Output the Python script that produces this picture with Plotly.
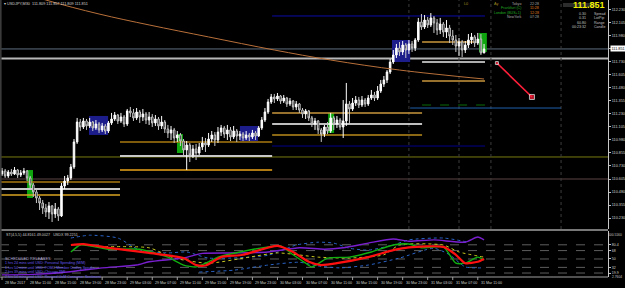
import pandas as pd
import plotly.graph_objects as go

START = pd.Timestamp("2017-03-28 07:00")
N_BARS = 155

def bt(b):
    return START + pd.Timedelta(minutes=30 * b)

bar_time = [bt(i) for i in range(N_BARS)]

# ---------------- USDJPY M30 OHLC ----------------
opens = [110.653, 110.682, 110.634, 110.672, 110.653, 110.691, 110.644, 110.663, 110.682, 110.615,
         110.548, 110.481, 110.423, 110.375, 110.327, 110.289, 110.347, 110.270, 110.318, 110.251,
         110.538, 110.586, 110.615, 110.720, 110.960, 111.151, 111.103, 111.161, 111.113, 111.151,
         111.094, 111.132, 111.075, 111.113, 111.065, 111.142, 111.180, 111.218, 111.161, 111.199,
         111.132, 111.257, 111.238, 111.190, 111.247, 111.199, 111.228, 111.170, 111.199, 111.142,
         111.180, 111.113, 111.151, 111.084, 111.046, 111.075, 110.998, 111.027, 110.969, 110.883,
         110.931, 110.835, 110.893, 110.854, 110.912, 110.950, 110.931, 110.988, 111.027, 110.979,
         111.055, 111.094, 111.036, 111.075, 111.008, 111.065, 111.017, 111.036, 110.998, 111.027,
         111.008, 111.046, 111.017, 111.094, 111.170, 111.247, 111.343, 111.391, 111.372, 111.400,
         111.352, 111.381, 111.324, 111.352, 111.295, 111.324, 111.266, 111.228, 111.257, 111.190,
         111.132, 111.161, 111.075, 111.036, 111.103, 111.065, 111.190, 111.132, 111.170, 111.103,
         111.161, 111.324, 111.276, 111.333, 111.362, 111.314, 111.362, 111.324, 111.381, 111.410,
         111.381, 111.448, 111.515, 111.554, 111.630, 111.726, 111.793, 111.860, 111.822, 111.889,
         111.841, 111.899, 111.860, 111.937, 112.109, 112.061, 112.128, 112.081, 112.148, 112.100,
         112.033, 112.090, 112.013, 112.052, 111.975, 111.937, 111.879, 111.918, 111.841, 111.889,
         111.937, 111.966, 111.908, 111.946, 111.812]
highs = [110.711, 110.701, 110.691, 110.701, 110.720, 110.701, 110.691, 110.711, 110.691, 110.634,
         110.567, 110.500, 110.442, 110.404, 110.366, 110.385, 110.356, 110.375, 110.337, 110.567,
         110.634, 110.644, 110.749, 110.988, 111.190, 111.180, 111.190, 111.180, 111.190, 111.161,
         111.170, 111.151, 111.142, 111.132, 111.161, 111.238, 111.247, 111.228, 111.238, 111.218,
         111.276, 111.295, 111.276, 111.285, 111.266, 111.276, 111.247, 111.247, 111.228, 111.218,
         111.199, 111.209, 111.170, 111.123, 111.113, 111.094, 111.065, 111.046, 110.988, 110.969,
         110.950, 110.931, 110.941, 110.950, 111.008, 110.998, 111.046, 111.065, 111.055, 111.103,
         111.123, 111.113, 111.123, 111.103, 111.113, 111.084, 111.065, 111.055, 111.065, 111.046,
         111.075, 111.065, 111.113, 111.199, 111.285, 111.372, 111.420, 111.420, 111.429, 111.410,
         111.410, 111.391, 111.381, 111.362, 111.352, 111.333, 111.285, 111.276, 111.266, 111.209,
         111.190, 111.170, 111.094, 111.123, 111.151, 111.238, 111.209, 111.209, 111.190, 111.362,
         111.525, 111.352, 111.381, 111.400, 111.391, 111.400, 111.381, 111.410, 111.458, 111.439,
         111.496, 111.554, 111.592, 111.649, 111.755, 111.841, 111.899, 111.918, 111.927, 111.908,
         111.937, 111.927, 111.956, 112.148, 112.186, 112.176, 112.157, 112.195, 112.167, 112.138,
         112.148, 112.109, 112.128, 112.081, 112.033, 111.985, 111.956, 111.937, 111.927, 111.994,
         112.004, 111.985, 112.004, 111.994, 111.899]
lows = [110.634, 110.615, 110.615, 110.634, 110.644, 110.615, 110.624, 110.644, 110.586, 110.500,
        110.433, 110.375, 110.308, 110.270, 110.241, 110.222, 110.193, 110.232, 110.203, 110.241,
        110.509, 110.548, 110.596, 110.701, 110.941, 111.065, 111.084, 111.075, 111.094, 111.065,
        111.075, 111.046, 111.055, 111.036, 111.046, 111.123, 111.161, 111.132, 111.142, 111.103,
        111.113, 111.199, 111.161, 111.170, 111.142, 111.161, 111.132, 111.123, 111.103, 111.113,
        111.075, 111.084, 111.046, 110.998, 110.979, 110.950, 110.960, 110.921, 110.835, 110.691,
        110.768, 110.806, 110.787, 110.835, 110.883, 110.864, 110.912, 110.960, 110.921, 110.950,
        111.017, 110.998, 110.979, 110.969, 110.988, 110.960, 110.979, 110.969, 110.979, 110.969,
        110.988, 110.979, 111.008, 111.075, 111.151, 111.228, 111.324, 111.333, 111.352, 111.324,
        111.333, 111.295, 111.305, 111.266, 111.266, 111.238, 111.190, 111.180, 111.161, 111.103,
        111.075, 111.036, 110.960, 111.008, 111.036, 111.046, 111.075, 111.094, 111.075, 110.998,
        111.113, 111.132, 111.257, 111.305, 111.285, 111.295, 111.295, 111.305, 111.362, 111.352,
        111.362, 111.429, 111.487, 111.525, 111.611, 111.707, 111.764, 111.784, 111.793, 111.764,
        111.803, 111.822, 111.831, 111.918, 112.033, 112.042, 112.052, 112.061, 112.004, 111.985,
        111.994, 111.966, 111.956, 111.908, 111.889, 111.822, 111.784, 111.774, 111.812, 111.860,
        111.899, 111.870, 111.889, 111.793, 111.812]
closes = [110.682, 110.634, 110.672, 110.653, 110.691, 110.644, 110.663, 110.682, 110.615, 110.548,
          110.481, 110.423, 110.375, 110.327, 110.289, 110.347, 110.270, 110.318, 110.251, 110.538,
          110.586, 110.615, 110.720, 110.960, 111.151, 111.103, 111.161, 111.113, 111.151, 111.094,
          111.132, 111.075, 111.113, 111.065, 111.142, 111.180, 111.218, 111.161, 111.199, 111.132,
          111.257, 111.238, 111.190, 111.247, 111.199, 111.228, 111.170, 111.199, 111.142, 111.180,
          111.113, 111.151, 111.084, 111.046, 111.075, 110.998, 111.027, 110.969, 110.883, 110.931,
          110.835, 110.893, 110.854, 110.912, 110.950, 110.931, 110.988, 111.027, 110.979, 111.055,
          111.094, 111.036, 111.075, 111.008, 111.065, 111.017, 111.036, 110.998, 111.027, 111.008,
          111.046, 111.017, 111.094, 111.170, 111.247, 111.343, 111.391, 111.372, 111.400, 111.352,
          111.381, 111.324, 111.352, 111.295, 111.324, 111.266, 111.228, 111.257, 111.190, 111.132,
          111.161, 111.075, 111.036, 111.103, 111.065, 111.190, 111.132, 111.170, 111.103, 111.161,
          111.324, 111.276, 111.333, 111.362, 111.314, 111.362, 111.324, 111.381, 111.410, 111.381,
          111.448, 111.515, 111.554, 111.630, 111.726, 111.793, 111.860, 111.822, 111.889, 111.841,
          111.899, 111.860, 111.937, 112.109, 112.061, 112.128, 112.081, 112.148, 112.100, 112.033,
          112.090, 112.013, 112.052, 111.975, 111.937, 111.879, 111.918, 111.841, 111.889, 111.937,
          111.966, 111.908, 111.946, 111.812, 111.851]

# long moving average (orange-brown curve)
ma_bars = [0, 14, 31, 47, 66, 87, 105, 127, 154]
ma_vals = [112.46, 112.32, 112.186, 112.081, 111.966, 111.841, 111.745, 111.649, 111.563]

# price axis labels
price_ticks = [112.230, 112.105, 111.980, 111.855, 111.730, 111.605, 111.480, 111.355, 111.230,
               111.105, 110.980, 110.855, 110.730, 110.605, 110.480, 110.355, 110.230]
current_price = 111.851

# time axis labels
time_label_bars = [0, 8, 16, 24, 32, 40, 48, 56, 64, 72, 80, 88, 96, 104, 112, 120, 128, 136, 144, 152]
time_labels = ["28 Mar 2017", "28 Mar 11:00", "28 Mar 15:00", "28 Mar 19:00", "28 Mar 23:00",
               "29 Mar 03:00", "29 Mar 07:00", "29 Mar 11:00", "29 Mar 15:00", "29 Mar 19:00",
               "29 Mar 23:00", "30 Mar 03:00", "30 Mar 07:00", "30 Mar 11:00", "30 Mar 15:00",
               "30 Mar 19:00", "30 Mar 23:00", "31 Mar 03:00", "31 Mar 07:00", "31 Mar 11:00"]

# full-width horizontal levels: price, colour, width
full_levels = [111.851, 111.760, 110.816, 110.605]
full_colors = ["#5d6d7e", "#b8b8b8", "#7a7a12", "#5e4444"]
full_widths = [1, 2, 1, 1]

# level segments: start bar, end bar, price, colour, width, dash
seg_start = [-1, -1, -1, 37.7, 37.7, 37.7, 86.3, 86.3, 86.3, 86.3, 86.3, 134.2, 134.2, 134.2, 134.2, 130.4]
seg_end = [37.7, 37.7, 37.7, 86.3, 86.3, 86.3, 134.2, 134.2, 134.2, 154.3, 154.3, 154.3, 154.3, 154.3, 151.5, 178.6]
seg_price = [110.577, 110.509, 110.452, 110.960, 110.826, 110.691, 111.238, 111.132, 111.027, 110.921,
             112.167, 111.544, 111.314, 111.726, 111.918, 111.285]
seg_color = ["#a87a10", "#c8c8c8", "#daa520", "#a87a10", "#c8c8c8", "#e8a317", "#c8963c", "#ffffff",
             "#8b6914", "#00008b", "#0a0aa8", "#c8963c", "#0a6a0a", "#e8e8e8", "#c8963c", "#1f5fa8"]
seg_width = [1.5, 2, 1.5, 1.5, 2, 1.5, 1.5, 1.5, 2, 1, 1, 1.5, 1, 1.5, 1.5, 1]
seg_dash = ["solid"] * 12 + ["dash"] + ["solid"] * 3

# shaded boxes: start bar, end bar, top, bottom
blue_box_b0 = [27.8, 76.0, 124.6]
blue_box_b1 = [33.9, 81.8, 130.4]
blue_box_hi = [111.209, 111.113, 111.937]
blue_box_lo = [111.027, 110.969, 111.726]
green_box_b0 = [8.0, 55.9, 104.2, 152.4]
green_box_b1 = [9.9, 57.8, 106.1, 154.9]
green_box_hi = [110.691, 111.036, 111.238, 112.004]
green_box_lo = [110.423, 110.854, 111.046, 111.822]

# session separators (dotted verticals)
vline_bars = [130, 146, 156.2, 178.6]

# red drawn arrow
arrow_bars = [158.1, 169.3]
arrow_prices = [111.716, 111.391]

# ---------------- indicator window ----------------
red_bars = [22, 26, 34, 47, 58, 62, 65, 70, 77, 88, 93, 98, 102, 107, 117, 125, 130, 141, 145, 148, 152, 154]
red_vals = [80, 82, 74, 63, 52, 37, 36, 54, 59, 78, 65, 44, 37, 41, 54, 69, 75, 76, 59, 41, 44, 50]
green_bars = [22, 25, 28, 34, 44, 53, 58, 62, 66, 69, 76, 85, 89, 93, 97, 99, 104, 111, 118, 125, 130, 134, 141, 145, 148, 152, 154]
green_vals = [65, 80, 78, 71, 71, 54, 37, 33, 44, 54, 65, 76, 78, 59, 41, 33, 52, 54, 65, 80, 82, 74, 76, 41, 41, 54, 48]
yellow_bars = [31, 47, 55, 66, 79, 88, 101, 111, 122, 127, 141, 146, 154]
yellow_vals = [76, 74, 52, 41, 54, 63, 54, 52, 59, 80, 80, 65, 54]
blue1_bars = [22, 28, 37, 44, 53, 59, 66, 85, 94, 101, 106, 111, 117, 125, 130, 141, 149]
blue1_vals = [95, 101, 95, 69, 63, 65, 52, 58, 80, 86, 84, 73, 69, 80, 91, 95, 86]
blue2_bars = [63, 74, 85, 95, 101, 108, 117, 127, 138, 143, 148, 153]
blue2_vals = [22, 26, 37, 43, 35, 31, 37, 52, 73, 59, 33, 31]
purple_bars = [0, 10, 21, 32, 43, 47, 58, 64, 74, 85, 95, 103, 109, 117, 125, 130, 138, 148, 152, 154]
purple_vals = [16, 17, 22, 31, 37, 44, 52, 62, 63, 65, 74, 71, 74, 84, 93, 88, 91, 86, 97, 91]
ind_levels = [80.4, 68, 50, 32, 19.9]

releases = ["1 hrs 24 mins until USD: Personal Spending (M/M)",
            "1 hrs 54 mins until USD: FOMC Member Dudley Speaks",
            "2 hrs 39 mins until USD: Chicago PMI",
            "2 hrs 54 mins until USD: Revised UoM Consumer Sentiment"]

FONT = "Liberation Sans"
PW, PH = 608.0, 277.0

fig = go.Figure()

fig.add_trace(go.Candlestick(
    x=bar_time, open=opens, high=highs, low=lows, close=closes,
    increasing=dict(line=dict(color="#ffffff", width=1), fillcolor="#ffffff"),
    decreasing=dict(line=dict(color="#c8c8c8", width=1), fillcolor="#000000"),
    whiskerwidth=0, hoverinfo="skip", xaxis="x", yaxis="y"))

fig.add_trace(go.Scatter(x=[bt(b) for b in ma_bars], y=ma_vals, mode="lines",
                         line=dict(color="#b8703a", width=1, shape="spline"),
                         hoverinfo="skip", xaxis="x", yaxis="y"))

fig.add_trace(go.Scatter(x=[bt(b) for b in arrow_bars], y=arrow_prices, mode="lines+markers",
                         line=dict(color="#ff1f3a", width=1.6),
                         marker=dict(symbol="square", size=[3, 5], color="#ff1f3a"),
                         hoverinfo="skip", xaxis="x", yaxis="y"))

def ind(bars, vals, color, width, dash="solid"):
    fig.add_trace(go.Scatter(x=[bt(b) for b in bars], y=vals, mode="lines",
                             line=dict(color=color, width=width, dash=dash, shape="spline", smoothing=0.6),
                             hoverinfo="skip", xaxis="x2", yaxis="y2"))

ind(blue2_bars, blue2_vals, "#2a64c8", 1, "dot")
ind(blue1_bars, blue1_vals, "#2a64c8", 1, "dot")
ind(yellow_bars, yellow_vals, "#c8c820", 1, "dot")
ind(purple_bars, purple_vals, "#7a1fd0", 1.4)
ind(green_bars, green_vals, "#10b010", 1.4)
ind(red_bars, red_vals, "#ff1010", 2.2)

shapes = []
for b0, b1, hi, lo in zip(blue_box_b0, blue_box_b1, blue_box_hi, blue_box_lo):
    shapes.append(dict(type="rect", xref="x", yref="y", x0=bt(b0), x1=bt(b1), y0=lo, y1=hi,
                       fillcolor="#1c1c8a", line=dict(width=0), layer="below"))
for b0, b1, hi, lo in zip(green_box_b0, green_box_b1, green_box_hi, green_box_lo):
    shapes.append(dict(type="rect", xref="x", yref="y", x0=bt(b0), x1=bt(b1), y0=lo, y1=hi,
                       fillcolor="#0fa50f", line=dict(width=0), layer="below"))
for p, c, w in zip(full_levels, full_colors, full_widths):
    shapes.append(dict(type="line", xref="paper", yref="y", x0=0, x1=1, y0=p, y1=p,
                       line=dict(color=c, width=w), layer="below"))
for b0, b1, p, c, w, d in zip(seg_start, seg_end, seg_price, seg_color, seg_width, seg_dash):
    shapes.append(dict(type="line", xref="x", yref="y", x0=bt(b0), x1=bt(b1), y0=p, y1=p,
                       line=dict(color=c, width=w, dash=d), layer="below"))
for b in vline_bars:
    shapes.append(dict(type="line", xref="x", yref="paper", x0=bt(b), x1=bt(b), y0=1 - 229 / PH, y1=1,
                       line=dict(color="#3c3c3c", width=1, dash="dot"), layer="below"))
for lv in ind_levels:
    shapes.append(dict(type="line", xref="paper", yref="y2", x0=0, x1=1, y0=lv, y1=lv,
                       line=dict(color="#5e5e5e", width=1, dash="dash"), layer="below"))
# window separator, bottom axis, left border, top-right info bar
shapes.append(dict(type="line", xref="paper", yref="paper", x0=0, x1=1, y0=1 - 230 / PH, y1=1 - 230 / PH,
                   line=dict(color="#a0a0a0", width=1.5)))
shapes.append(dict(type="line", xref="paper", yref="paper", x0=0, x1=1, y0=0, y1=0,
                   line=dict(color="#a0a0a0", width=1)))
shapes.append(dict(type="line", xref="paper", yref="paper", x0=0.001, x1=0.001, y0=0, y1=1,
                   line=dict(color="#3a3a3a", width=2)))
shapes.append(dict(type="rect", xref="paper", yref="paper", x0=563 / PW, x1=597 / PW,
                   y0=1 - 7 / PH, y1=1 - 3 / PH, fillcolor="#2c2c2c", line=dict(width=0)))
for b in time_label_bars:
    shapes.append(dict(type="line", xref="x", yref="paper", x0=bt(b), x1=bt(b), y0=0, y1=-3 / PH,
                       line=dict(color="#a0a0a0", width=1)))

def ann(px, py, text, color="#c8c8c8", size=3.7, anchor="left", **kw):
    return dict(xref="paper", yref="paper", x=px / PW, y=1 - py / PH, text=text, showarrow=False,
                xanchor=anchor, yanchor="middle", font=dict(family=FONT, size=size, color=color), **kw)

anns = []
anns.append(ann(2, 4, "\u25be USDJPY,M30  111.809 111.857 111.809 111.851", "#d0d0d0", 3.8))
anns.append(ann(462, 4, "L0", "#a08a20", 3.8))
anns.append(ann(492, 4, "Ay", "#a08a20", 3.8))
sess_names = ["Tokyo", "Frankfurt (C)", "London (BUS+1)", "NewYork"]
sess_times = ["22:28", "11:28", "12:28", "07:28"]
sess_ncol = ["#a8a8a8", "#22aa22", "#22aa22", "#a8a8a8"]
sess_tcol = ["#a8a8a8", "#e08020", "#e08020", "#a8a8a8"]
for k, (n, t, nc, tc) in enumerate(zip(sess_names, sess_times, sess_ncol, sess_tcol)):
    anns.append(ann(523, 4 + 4.4 * k, n, nc, 3.6, "right"))
    anns.append(ann(528, 4 + 4.4 * k, t, tc, 3.6, "left"))
anns.append(ann(607, 5.5, "<b>111.851</b>", "#f0f000", 9, "right"))
info_vals = ["0.30", "0.31", "60.80", "00:23:32"]
info_names = ["Spread", "LotPip", "Range", "Candle"]
for k, (v, n) in enumerate(zip(info_vals, info_names)):
    anns.append(ann(588, 13.5 + 4.5 * k, v, "#c0c0c0", 3.6, "right"))
    anns.append(ann(592, 13.5 + 4.5 * k, n, "#c0c0c0", 3.6, "left"))
# current price tag on the axis
anns.append(dict(xref="paper", yref="y", x=609.5 / PW, y=current_price, text="111.851", showarrow=False,
                 xanchor="left", yanchor="middle", bgcolor="#ffffff", borderpad=0.5,
                 font=dict(family=FONT, size=3.8, color="#000000")))
# indicator texts
anns.append(ann(4, 234.5, "ST(4,5,5) 44.8161 49.0027   USDX 99.2251", "#c8c8c8", 3.7))
anns.append(ann(3, 258, "SCHEDULED RELEASES:", "#b0a8d0", 3.9))
for k, r in enumerate(releases):
    anns.append(ann(3, 263 + 4.5 * k, r, "#6a5ae8", 3.6))
anns.append(ann(624, 235, "100.5160", "#c8c8c8", 3.3, "right"))
anns.append(ann(624, 276.5, "2.7604", "#c8c8c8", 3.3, "right"))
# time axis labels
for b, t in zip(time_label_bars, time_labels):
    anns.append(dict(xref="x", yref="paper", x=bt(b), y=-5.5 / PH, text=t, showarrow=False,
                     xanchor="left", yanchor="middle", xshift=1,
                     font=dict(family=FONT, size=3.6, color="#d0d0d0")))

x_range = [bt(-0.64), bt(193.6)]
fig.update_layout(
    width=625, height=288, margin=dict(l=0, r=17, t=0, b=11),
    paper_bgcolor="#000000", plot_bgcolor="#000000", showlegend=False,
    font=dict(family=FONT, color="#d0d0d0"),
    shapes=shapes, annotations=anns,
    xaxis=dict(domain=[0, 1], anchor="y", range=x_range, showgrid=False, zeroline=False,
               showticklabels=False, ticks="", rangeslider=dict(visible=False), fixedrange=True),
    yaxis=dict(domain=[1 - 229 / PH, 1], range=[110.126, 112.320], side="right",
               tickvals=price_ticks, ticktext=[f"{v:.3f}" for v in price_ticks],
               tickfont=dict(family=FONT, size=3.8, color="#d0d0d0"), ticks="outside", ticklen=2,
               tickcolor="#c0c0c0", showgrid=False, zeroline=False, showline=True,
               linecolor="#c8c8c8", linewidth=1),
    xaxis2=dict(domain=[0, 1], anchor="y2", matches="x", range=x_range, showgrid=False,
                zeroline=False, showticklabels=False, ticks=""),
    yaxis2=dict(domain=[0, 1 - 231 / PH], range=[11.4, 110], side="right",
                tickvals=ind_levels, ticktext=["80.4", "68", "50", "32", "19.9"],
                tickfont=dict(family=FONT, size=3.6, color="#d0d0d0"), ticks="outside", ticklen=2,
                tickcolor="#c0c0c0", showgrid=False, zeroline=False, showline=True,
                linecolor="#c8c8c8", linewidth=1),
)

fig.write_html("out.html")
